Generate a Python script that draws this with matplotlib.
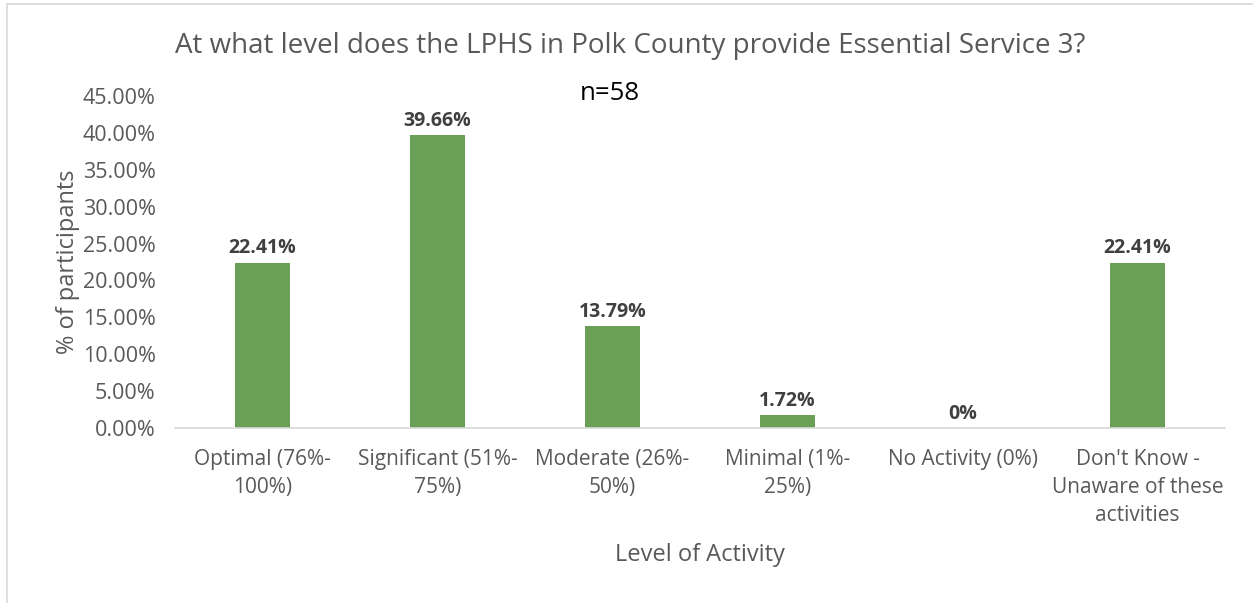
import matplotlib.pyplot as plt
from matplotlib.patches import Rectangle

categories = ['Optimal (76%-\n100%)', 'Significant (51%-\n75%)', 'Moderate (26%-\n50%)',
              'Minimal (1%-\n25%)', 'No Activity (0%)', "Don't Know -\nUnaware of these\nactivities"]
values = [22.41, 39.66, 13.79, 1.72, 0, 22.41]
value_labels = ['22.41%', '39.66%', '13.79%', '1.72%', '0%', '22.41%']
y_ticks = [0, 5, 10, 15, 20, 25, 30, 35, 40, 45]

plt.rcParams['font.family'] = ['Open Sans', 'DejaVu Sans']
grey = '#595959'

fig = plt.figure(figsize=(12.53, 6.03), dpi=100)
ax = fig.add_axes([0.1397, 0.2902, 0.8380, 0.5506])

x = range(len(categories))
ax.bar(x, values, width=0.314, color='#6A9F58')
for xi, v, lab in zip(x, values, value_labels):
    ax.text(xi, v + 0.6, lab, ha='center', va='bottom', fontsize=14,
            fontweight='bold', color='#404040')

ax.set_xlim(-0.5, 5.5)
ax.set_ylim(0, 45)
ax.set_yticks(y_ticks)
ax.set_yticklabels([f'{t:.2f}%' for t in y_ticks])
ax.set_xticks(list(x))
ax.set_xticklabels(categories, linespacing=1.45, va='top')
ax.tick_params(axis='both', length=0, labelcolor=grey)
ax.tick_params(axis='y', labelsize=15.5, pad=14)
ax.tick_params(axis='x', labelsize=15, pad=15)
for s in ['top', 'right', 'left']:
    ax.spines[s].set_visible(False)
ax.spines['bottom'].set_color('#D9D9D9')
ax.spines['bottom'].set_linewidth(1.2)

ax.set_ylabel('% of participants', fontsize=17, color=grey, labelpad=2)
ax.set_xlabel('Level of Activity', fontsize=17, color=grey, labelpad=12)

fig.text(0.503, 0.923, 'At what level does the LPHS in Polk County provide Essential Service 3?',
         ha='center', va='center', fontsize=20, color=grey)
fig.text(0.487, 0.845, 'n=58', ha='center', va='center', fontsize=18.5, color='black')

# chart area frame
fig.patches.append(Rectangle((7 / 1253, -0.1), 1.2, (603 - 4) / 603 + 0.1,
                             transform=fig.transFigure, fill=False,
                             edgecolor='#D9D9D9', linewidth=1.2))

fig.savefig('out.png', dpi=100)
